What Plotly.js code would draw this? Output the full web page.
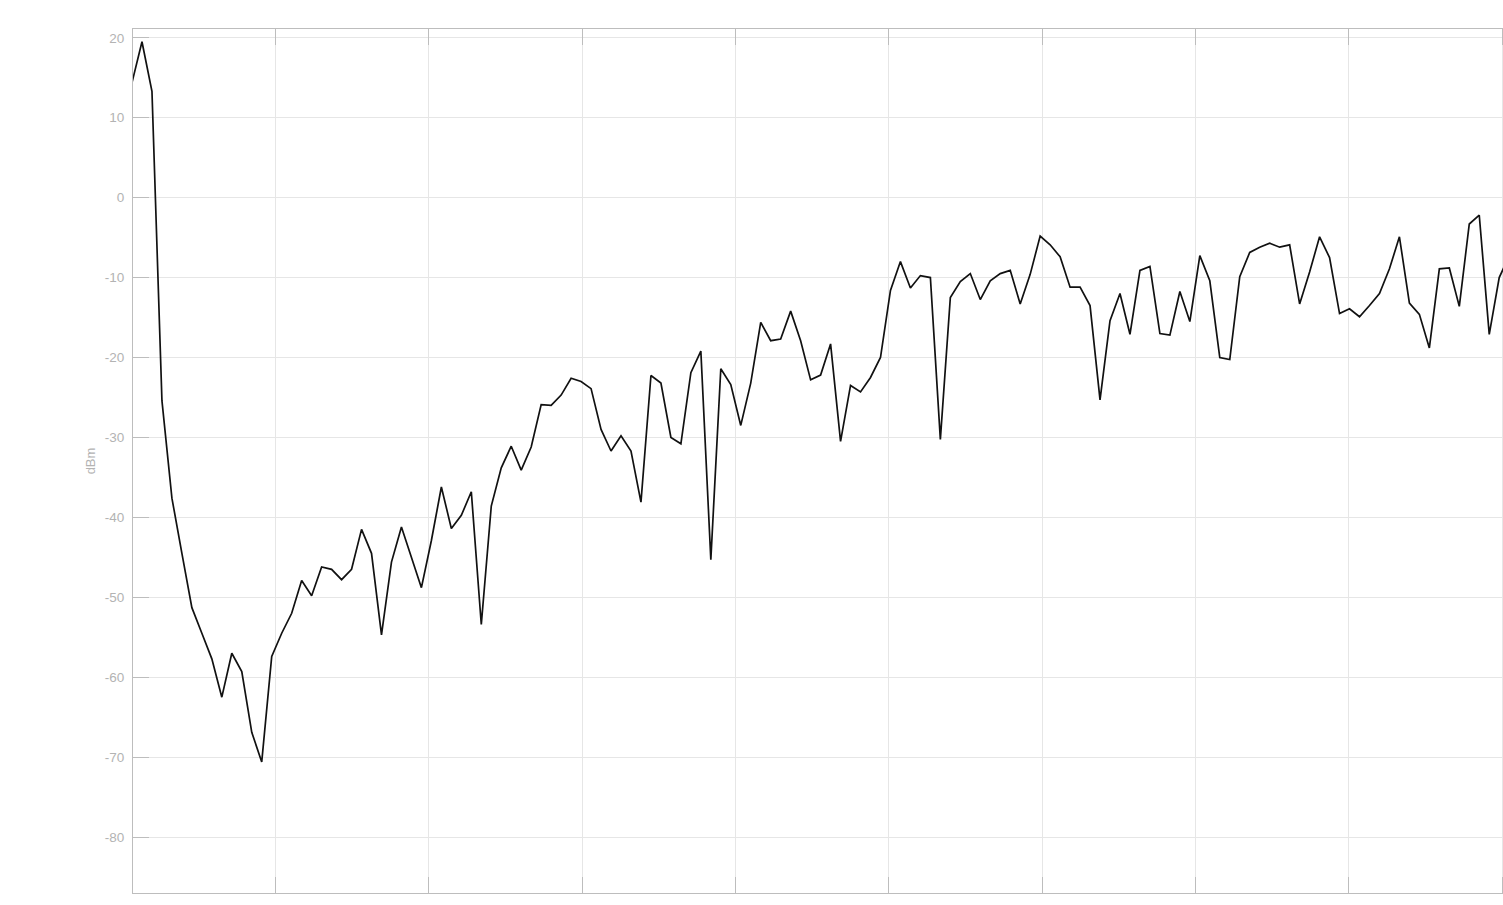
<!DOCTYPE html>
<html>
<head>
<meta charset="utf-8">
<script src="https://cdn.plot.ly/plotly-3.0.1.min.js"></script>
<style>
  html, body { margin: 0; padding: 0; overflow: hidden; background: #fff; }
  #chart { width: 1530px; height: 905px; }
</style>
</head>
<body>
<div id="chart"></div>
<script>
// Bin index (frequency bins) and measured power in dBm
const binIndex = [];
const powerDbm = [
  -19.0, 14.4, 19.5, 13.3, -25.4, -37.6, -44.5, -51.3, -54.5, -57.7,
  -62.5, -57.0, -59.3, -66.9, -70.6, -57.4, -54.5, -52.0, -47.9, -49.8,
  -46.2, -46.5, -47.8, -46.5, -41.5, -44.5, -54.7, -45.6, -41.2, -45.0,
  -48.8, -42.9, -36.2, -41.4, -39.75, -36.8, -53.4, -38.6, -33.8, -31.1,
  -34.1, -31.2, -25.9, -26.0, -24.7, -22.6, -23.0, -23.9, -29.0, -31.7,
  -29.8, -31.7, -38.1, -22.25, -23.2, -30.0, -30.8, -21.9, -19.2, -45.3,
  -21.4, -23.4, -28.5, -23.2, -15.6, -17.9, -17.7, -14.2, -17.9, -22.8,
  -22.2, -18.3, -30.5, -23.5, -24.3, -22.5, -20.0, -11.6, -8.0, -11.3,
  -9.75, -10.0, -30.25, -12.5, -10.5, -9.5, -12.75, -10.4, -9.5, -9.1,
  -13.3, -9.6, -4.8, -5.9, -7.4, -11.2, -11.2, -13.5, -25.3, -15.4,
  -12.0, -17.1, -9.1, -8.6, -17.0, -17.2, -11.75, -15.5, -7.25, -10.4,
  -20.0, -20.25, -9.9, -6.85, -6.2, -5.7, -6.2, -5.9, -13.3, -9.3,
  -4.9, -7.5, -14.5, -13.9, -14.9, -13.5, -12.0, -8.9, -4.9, -13.2,
  -14.6, -18.8, -8.9, -8.8, -13.6, -3.3, -2.2, -17.1, -10.0, -7.3
];
for (let i = 0; i < powerDbm.length; i++) binIndex.push(i);

const yTickVals = [20, 10, 0, -10, -20, -30, -40, -50, -60, -70, -80];
const yTickText = ['20', '10', '0', '-10', '-20', '-30', '-40', '-50', '-60', '-70', '-80'];
const yTitle = 'dBm';

const axisGrey = '#bdbdbd';
const gridGrey = '#e6e6e6';
const labelGrey = '#b3b3b3';

const trace = {
  x: binIndex,
  y: powerDbm,
  type: 'scatter',
  mode: 'lines',
  line: { color: '#111111', width: 1.7 },
  hoverinfo: 'x+y'
};

const layout = {
  width: 1530,
  height: 905,
  margin: { l: 133, r: 20, t: 29, b: 12, pad: 0 },
  paper_bgcolor: '#ffffff',
  plot_bgcolor: '#ffffff',
  showlegend: false,
  font: { family: 'Liberation Sans, Arial, sans-serif', size: 13, color: labelGrey },
  xaxis: {
    range: [1.10, 139.08],
    tick0: 0,
    dtick: 15.365,
    tickmode: 'linear',
    showticklabels: false,
    ticks: 'inside',
    ticklen: 16,
    tickwidth: 1,
    tickcolor: axisGrey,
    showgrid: true,
    gridcolor: gridGrey,
    gridwidth: 1,
    zeroline: false,
    showline: true,
    linecolor: axisGrey,
    linewidth: 1,
    mirror: 'ticks'
  },
  yaxis: {
    range: [-87, 21.1],
    tickmode: 'array',
    tickvals: yTickVals,
    ticktext: yTickText,
    ticks: 'inside',
    ticklen: 16,
    tickwidth: 1,
    tickcolor: axisGrey,
    ticklabelstandoff: 5,
    tickfont: { family: 'Liberation Sans, Arial, sans-serif', size: 13.5, color: labelGrey },
    showgrid: true,
    gridcolor: gridGrey,
    gridwidth: 1,
    zeroline: false,
    showline: true,
    linecolor: axisGrey,
    linewidth: 1,
    mirror: true,
    automargin: false,
    title: { text: yTitle, standoff: 6, font: { family: 'Liberation Sans, Arial, sans-serif', size: 13, color: labelGrey } }
  }
};

Plotly.newPlot('chart', [trace], layout, { displayModeBar: false, staticPlot: true });
</script>
</body>
</html>
